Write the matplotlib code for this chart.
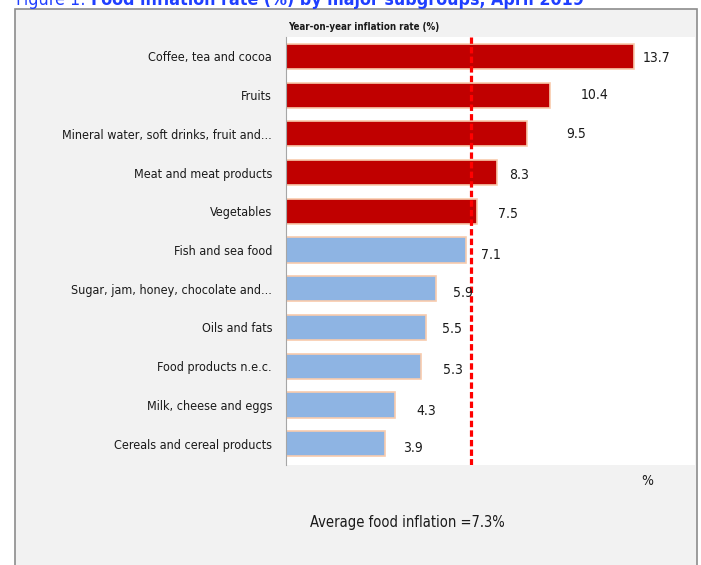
import matplotlib.pyplot as plt
from matplotlib.patches import Rectangle

plt.rcParams['font.family'] = ['DejaVu Sans']
plt.rcParams['font.stretch'] = 'condensed'

# data, top to bottom
categories = ['Coffee, tea and cocoa', 'Fruits', 'Mineral water, soft drinks, fruit and...',
              'Meat and meat products', 'Vegetables', 'Fish and sea food',
              'Sugar, jam, honey, chocolate and...', 'Oils and fats', 'Food products n.e.c.',
              'Milk, cheese and eggs', 'Cereals and cereal products']
values = [13.7, 10.4, 9.5, 8.3, 7.5, 7.1, 5.9, 5.5, 5.3, 4.3, 3.9]
avg_food = 7.3

# label offsets in points (layout only)
lab_dx = [6.5, 21.6, 28, 8.6, 15.8, 10.8, 12.2, 11.5, 15.8, 15, 13]
lab_dy = [-1.4, 0, 0, -1.4, -2.2, -3.6, -2.9, -1.4, -2.9, -4.3, -2.9]

red = '#c00000'
blue = '#8eb4e3'
edge = '#f8cbad'

fig = plt.figure(figsize=(7.01, 5.65), dpi=100, facecolor='white')
W, H = 701, 565

# grey chart box
fig.patches.append(Rectangle((15 / W, -0.01), (697 - 15) / W, (565 - 9) / H + 0.01,
                             transform=fig.transFigure, facecolor='#f2f2f2',
                             edgecolor='#8c8c8c', linewidth=1.2, zorder=-5))

ax = fig.add_axes([286 / W, (565 - 465) / H, (695 - 286) / W, (465 - 37) / H])
ax.set_facecolor('white')

colors = [red if v > avg_food else blue for v in values]
ypos = range(len(values))
ax.barh(ypos, values, height=0.65, color=colors, edgecolor=edge, linewidth=1.2, zorder=2)
ax.axvline(avg_food, color='#ff0000', linestyle=(0, (2, 1)), linewidth=2.3, zorder=3)

for i, v in enumerate(values):
    ax.annotate('%.1f' % v, xy=(v, i), xytext=(lab_dx[i], lab_dy[i]), textcoords='offset points',
                ha='left', va='center', fontsize=10, color='#1a1a1a')

ax.set_xlim(0, 16.1)
ax.set_ylim(10.55, -0.5)
ax.set_yticks(list(ypos))
ax.set_yticklabels(categories, fontsize=9, color='#1a1a1a')
ax.tick_params(axis='y', length=0, pad=10)
ax.set_xticks([])
for s in ['top', 'right', 'bottom']:
    ax.spines[s].set_visible(False)
ax.spines['left'].set_color('#a6a6a6')

fig.text(288 / W, 1 - 27 / H, 'Year-on-year inflation rate (%)', fontsize=7,
         fontweight='bold', ha='left', va='center', color='#1a1a1a')
fig.text(647 / W, 1 - 481 / H, '%', fontsize=10, ha='center', va='center', color='#1a1a1a')
fig.text(407 / W, 1 - 523 / H, 'Average food inflation =7.3%', fontsize=10.5,
         ha='center', va='center', color='#1a1a1a')

# title (cut at the top of the picture)
t1 = fig.text(16 / W, 1 - 5 / H, 'Figure 1: ', fontsize=12.8, color='#1f3fff',
              ha='left', va='baseline')
fig.canvas.draw()
bb = t1.get_window_extent()
fig.text(bb.x1 / W, 1 - 5 / H, 'Food inflation rate (%) by major subgroups, April 2019',
         fontsize=12.8, fontweight='bold', color='#1f3fff', ha='left', va='baseline')

fig.savefig('out.png', dpi=100, facecolor=fig.get_facecolor())
